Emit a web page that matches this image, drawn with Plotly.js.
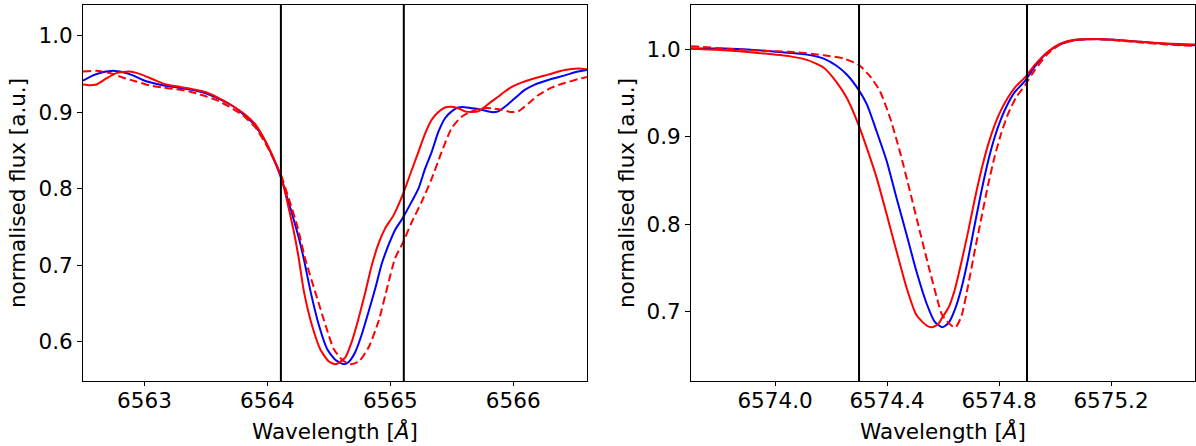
<!DOCTYPE html>
<html>
<head>
<meta charset="utf-8">
<script src="https://cdn.plot.ly/plotly-3.0.1.min.js"></script>
<style>html,body{margin:0;padding:0;background:#fff;}#chart{width:1196px;height:446px;}</style>
</head>
<body>
<div id="chart"></div>
<script>
// ---------- Left panel (H-alpha region) ----------
var leftBlueWl = [6562.500, 6562.581, 6562.662, 6562.744, 6562.825, 6562.906, 6562.987, 6563.068, 6563.149, 6563.231, 6563.312, 6563.393, 6563.474, 6563.555, 6563.636, 6563.718, 6563.799, 6563.880, 6563.961, 6564.042, 6564.110, 6564.160, 6564.210, 6564.255, 6564.298, 6564.352, 6564.420, 6564.487, 6564.555, 6564.623, 6564.660, 6564.714, 6564.769, 6564.823, 6564.877, 6564.931, 6564.985, 6565.039, 6565.099, 6565.174, 6565.229, 6565.283, 6565.337, 6565.391, 6565.445, 6565.499, 6565.553, 6565.607, 6565.661, 6565.716, 6565.770, 6565.824, 6565.878, 6565.932, 6566.013, 6566.094, 6566.175, 6566.284, 6566.419, 6566.527, 6566.600];
var leftBlueFlux = [0.941, 0.948, 0.952, 0.954, 0.952, 0.948, 0.942, 0.938, 0.935, 0.933, 0.931, 0.929, 0.926, 0.921, 0.915, 0.908, 0.898, 0.886, 0.868, 0.842, 0.815, 0.789, 0.762, 0.736, 0.707, 0.665, 0.621, 0.590, 0.576, 0.5705, 0.573, 0.586, 0.610, 0.639, 0.669, 0.702, 0.726, 0.746, 0.761, 0.783, 0.800, 0.826, 0.848, 0.874, 0.892, 0.901, 0.906, 0.9065, 0.905, 0.904, 0.902, 0.900, 0.901, 0.907, 0.918, 0.929, 0.936, 0.942, 0.948, 0.953, 0.955];

var leftRedWl = [6562.500, 6562.554, 6562.608, 6562.689, 6562.771, 6562.879, 6562.960, 6563.068, 6563.176, 6563.285, 6563.393, 6563.501, 6563.609, 6563.718, 6563.826, 6563.907, 6563.988, 6564.069, 6564.123, 6564.177, 6564.220, 6564.257, 6564.298, 6564.365, 6564.433, 6564.501, 6564.555, 6564.633, 6564.687, 6564.741, 6564.796, 6564.850, 6564.904, 6564.958, 6565.026, 6565.099, 6565.174, 6565.229, 6565.283, 6565.337, 6565.391, 6565.445, 6565.499, 6565.553, 6565.607, 6565.661, 6565.716, 6565.770, 6565.824, 6565.878, 6565.932, 6566.013, 6566.148, 6566.284, 6566.419, 6566.527, 6566.600];
var leftRedFlux = [0.936, 0.935, 0.936, 0.944, 0.951, 0.953, 0.950, 0.943, 0.936, 0.933, 0.930, 0.926, 0.918, 0.908, 0.896, 0.883, 0.861, 0.833, 0.809, 0.772, 0.740, 0.707, 0.665, 0.620, 0.589, 0.574, 0.5705, 0.579, 0.600, 0.630, 0.664, 0.700, 0.728, 0.748, 0.765, 0.791, 0.824, 0.848, 0.872, 0.890, 0.900, 0.906, 0.907, 0.905, 0.901, 0.900, 0.901, 0.907, 0.914, 0.920, 0.927, 0.935, 0.943, 0.949, 0.955, 0.957, 0.956];

var leftDashWl = [6562.500, 6562.608, 6562.717, 6562.825, 6562.933, 6563.041, 6563.149, 6563.258, 6563.366, 6563.474, 6563.582, 6563.691, 6563.799, 6563.907, 6564.015, 6564.110, 6564.178, 6564.245, 6564.310, 6564.393, 6564.474, 6564.541, 6564.609, 6564.677, 6564.744, 6564.825, 6564.907, 6564.974, 6565.039, 6565.099, 6565.174, 6565.256, 6565.337, 6565.418, 6565.499, 6565.580, 6565.661, 6565.743, 6565.824, 6565.905, 6565.986, 6566.040, 6566.121, 6566.203, 6566.311, 6566.419, 6566.527, 6566.600];
var leftDashFlux = [0.953, 0.954, 0.951, 0.945, 0.940, 0.935, 0.932, 0.930, 0.927, 0.922, 0.916, 0.907, 0.896, 0.879, 0.850, 0.818, 0.785, 0.750, 0.707, 0.663, 0.621, 0.590, 0.576, 0.5705, 0.574, 0.593, 0.628, 0.670, 0.709, 0.728, 0.756, 0.783, 0.813, 0.848, 0.879, 0.894, 0.901, 0.905, 0.905, 0.903, 0.900, 0.901, 0.911, 0.922, 0.932, 0.938, 0.943, 0.946];

var leftVLines = [6564.11, 6565.11];
var leftXRange = [6562.5, 6566.6];
var leftYRange = [0.5485, 1.04];
var leftXTicks = [6563, 6564, 6565, 6566];
var leftYTicks = [0.6, 0.7, 0.8, 0.9, 1.0];

// ---------- Right panel ----------
var rightBlueWl = [6573.700, 6573.818, 6573.937, 6574.055, 6574.114, 6574.174, 6574.221, 6574.257, 6574.298, 6574.328, 6574.363, 6574.399, 6574.434, 6574.470, 6574.505, 6574.541, 6574.570, 6574.597, 6574.619, 6574.642, 6574.666, 6574.690, 6574.713, 6574.737, 6574.761, 6574.785, 6574.808, 6574.832, 6574.856, 6574.893, 6574.927, 6574.974, 6575.021, 6575.069, 6575.140, 6575.211, 6575.306, 6575.400, 6575.500];
var rightBlueFlux = [1.001, 1.001, 0.999, 0.996, 0.994, 0.9895, 0.981, 0.971, 0.954, 0.937, 0.906, 0.872, 0.830, 0.788, 0.746, 0.7095, 0.6885, 0.682, 0.6866, 0.702, 0.727, 0.761, 0.799, 0.8375, 0.872, 0.900, 0.921, 0.938, 0.951, 0.964, 0.980, 0.997, 1.006, 1.0105, 1.012, 1.011, 1.0086, 1.0063, 1.0048];

var rightRedWl = [6573.700, 6573.818, 6573.937, 6574.055, 6574.114, 6574.174, 6574.221, 6574.257, 6574.298, 6574.328, 6574.363, 6574.399, 6574.434, 6574.470, 6574.505, 6574.541, 6574.560, 6574.582, 6574.597, 6574.619, 6574.642, 6574.666, 6574.690, 6574.713, 6574.737, 6574.761, 6574.785, 6574.808, 6574.832, 6574.861, 6574.893, 6574.927, 6574.974, 6575.021, 6575.069, 6575.140, 6575.211, 6575.306, 6575.400, 6575.500];
var rightRedFlux = [1.0006, 0.999, 0.996, 0.992, 0.988, 0.979, 0.962, 0.944, 0.914, 0.887, 0.853, 0.811, 0.769, 0.727, 0.696, 0.684, 0.682, 0.6855, 0.693, 0.704, 0.725, 0.757, 0.792, 0.828, 0.862, 0.891, 0.914, 0.931, 0.945, 0.958, 0.968, 0.982, 0.997, 1.0067, 1.011, 1.012, 1.011, 1.0086, 1.0067, 1.0056];

var rightDashWl = [6573.700, 6573.818, 6573.937, 6574.055, 6574.174, 6574.245, 6574.298, 6574.339, 6574.375, 6574.411, 6574.446, 6574.482, 6574.517, 6574.553, 6574.582, 6574.597, 6574.630, 6574.645, 6574.666, 6574.690, 6574.713, 6574.737, 6574.761, 6574.785, 6574.808, 6574.832, 6574.861, 6574.893, 6574.927, 6574.974, 6575.021, 6575.069, 6575.140, 6575.211, 6575.306, 6575.400, 6575.500];
var rightDashFlux = [1.0037, 1.001, 0.9987, 0.9972, 0.9933, 0.9895, 0.9826, 0.9693, 0.952, 0.9215, 0.883, 0.8375, 0.792, 0.746, 0.711, 0.696, 0.684, 0.682, 0.695, 0.7305, 0.769, 0.807, 0.845, 0.878, 0.904, 0.926, 0.945, 0.959, 0.976, 0.995, 1.006, 1.0105, 1.0117, 1.0105, 1.0079, 1.0056, 1.004];

var rightVLines = [6574.3, 6574.9];
var rightXRange = [6573.7, 6575.5];
var rightYRange = [0.6205, 1.0508];
var rightXTicks = [6574.0, 6574.4, 6574.8, 6575.2];
var rightYTicks = [0.7, 0.8, 0.9, 1.0];

var xTitle = 'Wavelength [<i>Å</i>]';
var yTitle = 'normalised flux [a.u.]';

// ---------- Build ----------
var FONT = {family: 'DejaVu Sans, sans-serif', size: 21.5, color: '#000'};
function line(wl, fl, color, dash, xa, ya) {
  return {x: wl, y: fl, type: 'scatter', mode: 'lines', xaxis: xa, yaxis: ya,
    line: {color: color, width: 2, dash: dash, shape: 'spline', smoothing: 0.6},
    hoverinfo: 'x+y', showlegend: false};
}
var traces = [
  line(leftBlueWl, leftBlueFlux, '#0000ff', 'solid', 'x', 'y'),
  line(leftRedWl, leftRedFlux, '#ff0000', 'solid', 'x', 'y'),
  line(leftDashWl, leftDashFlux, '#ff0000', '8px,4px', 'x', 'y'),
  line(rightBlueWl, rightBlueFlux, '#0000ff', 'solid', 'x2', 'y2'),
  line(rightRedWl, rightRedFlux, '#ff0000', 'solid', 'x2', 'y2'),
  line(rightDashWl, rightDashFlux, '#ff0000', '8px,4px', 'x2', 'y2')
];

var shapes = [];
leftVLines.forEach(function (v) {
  shapes.push({type: 'line', xref: 'x', yref: 'y domain', x0: v, x1: v, y0: 0, y1: 1,
    line: {color: '#000', width: 2}, layer: 'above'});
});
rightVLines.forEach(function (v) {
  shapes.push({type: 'line', xref: 'x2', yref: 'y2 domain', x0: v, x1: v, y0: 0, y1: 1,
    line: {color: '#000', width: 2}, layer: 'above'});
});

function axisBase() {
  return {showgrid: false, zeroline: false, showline: true, mirror: true,
    linecolor: '#000', linewidth: 1, ticks: 'outside', ticklen: 5, tickwidth: 1,
    tickcolor: '#000', tickfont: FONT, fixedrange: true};
}
var xa1 = Object.assign(axisBase(), {domain: [0, 0.4532], range: leftXRange, tickvals: leftXTicks,
  tickformat: 'd', anchor: 'y', ticklen: 4, ticklabelstandoff: -4,
  title: {text: xTitle, font: FONT, standoff: 12}});
var ya1 = Object.assign(axisBase(), {domain: [0, 1], range: leftYRange, tickvals: leftYTicks,
  tickformat: '.1f', anchor: 'x', title: {text: yTitle, font: FONT, standoff: 6}});
var xa2 = Object.assign(axisBase(), {domain: [0.5468, 1], range: rightXRange, tickvals: rightXTicks,
  tickformat: '.1f', anchor: 'y2', ticklen: 4, ticklabelstandoff: -4,
  title: {text: xTitle, font: FONT, standoff: 12}});
var ya2 = Object.assign(axisBase(), {domain: [0, 1], range: rightYRange, tickvals: rightYTicks,
  tickformat: '.1f', anchor: 'x2', title: {text: yTitle, font: FONT, standoff: 6}});

var layout = {
  width: 1196, height: 446,
  margin: {l: 83, r: 1, t: 5, b: 65, pad: 0},
  paper_bgcolor: '#fff', plot_bgcolor: '#fff',
  font: FONT,
  xaxis: xa1, yaxis: ya1, xaxis2: xa2, yaxis2: ya2,
  shapes: shapes,
  showlegend: false
};
Plotly.newPlot('chart', traces, layout, {displayModeBar: false, staticPlot: true});
</script>
</body>
</html>
